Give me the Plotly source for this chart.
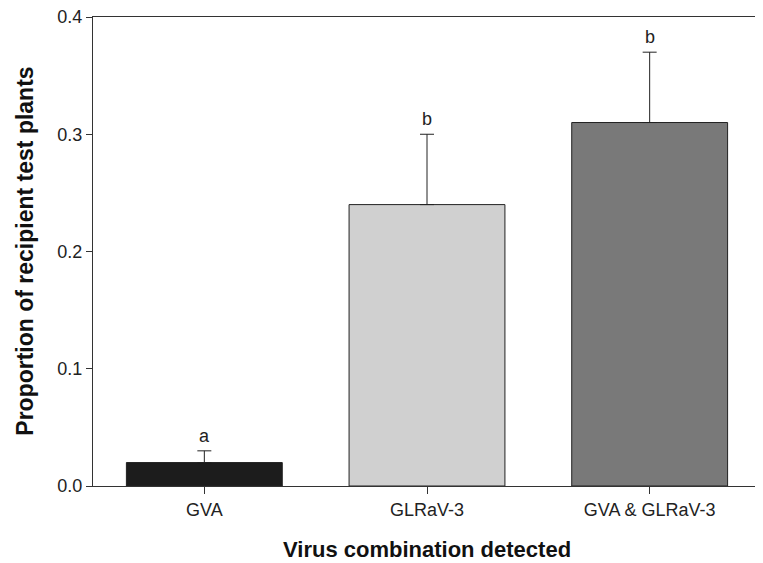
import plotly.graph_objects as go

categories = ["GVA", "GLRaV-3", "GVA &amp; GLRaV-3"]
values = [0.02, 0.24, 0.31]
errors = [0.01, 0.06, 0.06]
letters = ["a", "b", "b"]
bar_colors = ["#1c1c1c", "#d0d0d0", "#797979"]
y_ticks = [0.0, 0.1, 0.2, 0.3, 0.4]
y_tick_labels = ["0.0", "0.1", "0.2", "0.3", "0.4"]

FONT = "Liberation Sans, Arial, sans-serif"

fig = go.Figure()
fig.add_trace(go.Bar(
    x=categories, y=values, width=0.7,
    marker=dict(color=bar_colors, line=dict(color="#222222", width=1)),
    error_y=dict(type="data", symmetric=False, array=errors,
                 arrayminus=[0] * len(errors), color="#222222",
                 thickness=1, width=7),
))

for c, v, e, l in zip(categories, values, errors, letters):
    fig.add_annotation(x=c, y=v + e, text=l, showarrow=False,
                       yanchor="bottom", yshift=3,
                       font=dict(family=FONT, size=18, color="#222222"))

fig.add_annotation(xref="paper", yref="paper", x=0.5, y=-0.106,
                   xanchor="center", yanchor="top", showarrow=False,
                   borderpad=0,
                   text="<b>Virus combination detected</b>",
                   font=dict(family=FONT, size=22, color="#111111"))
fig.add_annotation(xref="paper", yref="paper", x=-0.103, y=0.5,
                   xanchor="center", yanchor="middle", showarrow=False,
                   textangle=-90,
                   text="<b>Proportion of recipient test plants</b>",
                   font=dict(family=FONT, size=23, color="#111111"))

fig.update_layout(
    width=755, height=555,
    margin=dict(l=85, r=2, t=9, b=77, autoexpand=False),
    paper_bgcolor="white", plot_bgcolor="white",
    showlegend=False, bargap=0.3,
    font=dict(family=FONT, size=18, color="#222222"),
)
fig.update_xaxes(
    range=[-0.5, 2.5], showgrid=False, zeroline=False, automargin=False,
    showline=True, linecolor="#333333", linewidth=1, mirror=True,
    ticks="outside", ticklen=7, tickcolor="#333333",
    tickfont=dict(family=FONT, size=18, color="#222222"),
)
fig.update_yaxes(
    range=[0, 0.4], tickvals=y_ticks, ticktext=y_tick_labels,
    showgrid=False, zeroline=False, ticklabeloverflow="allow", automargin=False,
    showline=True, linecolor="#333333", linewidth=1, mirror=True,
    ticks="outside", ticklen=6, tickcolor="#333333",
    tickfont=dict(family=FONT, size=18, color="#222222"),
)

fig.write_html("out.html")
